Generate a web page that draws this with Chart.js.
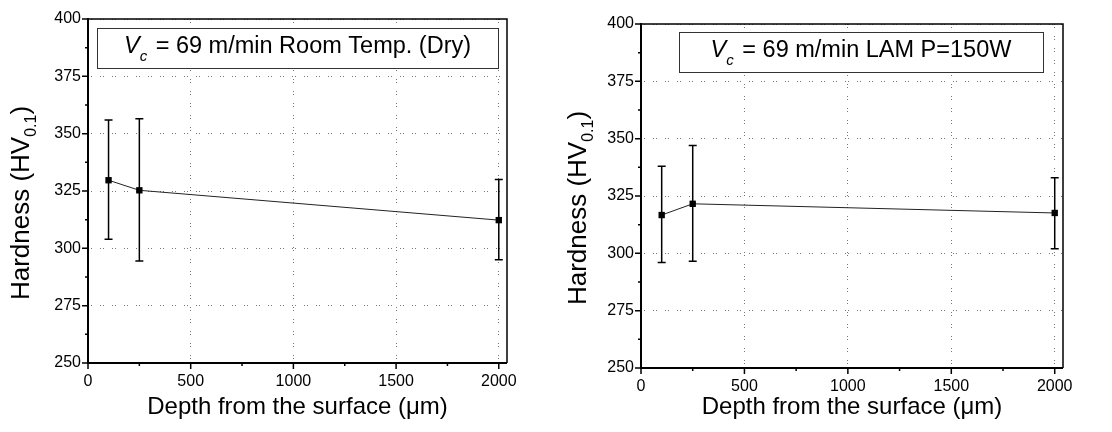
<!DOCTYPE html>
<html>
<head>
<meta charset="utf-8">
<script src="https://cdn.jsdelivr.net/npm/chart.js@4.4.0/dist/chart.umd.min.js"></script>
<style>
  body { margin: 0; background: #fff; }
  #wrap { position: relative; width: 1112px; height: 432px; }
  .panel { position: absolute; top: 0; width: 556px; height: 432px; }
</style>
</head>
<body>
<div id="wrap">
  <div class="panel" style="left:0"><canvas id="roomChart" width="556" height="432"></canvas></div>
  <div class="panel" style="left:556px"><canvas id="lamChart" width="556" height="432"></canvas></div>
</div>
<script>
const depths = [100, 250, 2000];
const roomHardness = [329.7, 325.3, 312.3];
const roomLow = [304, 294.5, 295];
const roomHigh = [356, 356.5, 330];
const lamHardness = [316.7, 321.6, 317.6];
const lamLow = [296, 296.5, 302];
const lamHigh = [338, 347, 333];

const xTickValues = [0, 500, 1000, 1500, 2000];
const xMinorValues = [250, 750, 1250, 1750];
const yTickValues = [250, 275, 300, 325, 350, 375, 400];
const yMinorValues = [262.5, 287.5, 312.5, 337.5, 362.5, 387.5];

const xTitle = 'Depth from the surface (\u03bcm)';
const FONT = "'Liberation Sans', Arial, sans-serif";

// draw a run of text pieces (for italics / subscripts)
function drawParts(ctx, parts, x, y) {
  let w = 0;
  parts.forEach(p => {
    ctx.font = (p.italic ? 'italic ' : '') + p.size + 'px ' + FONT;
    p.w = ctx.measureText(p.text).width;
    w += p.w + (p.gap || 0);
  });
  let cx = x - w / 2;
  parts.forEach(p => {
    ctx.font = (p.italic ? 'italic ' : '') + p.size + 'px ' + FONT;
    ctx.fillText(p.text, cx, y + (p.dy || 0));
    cx += p.w + (p.gap || 0);
  });
}

const framePlugin = {
  id: 'frame',
  beforeDatasetsDraw(chart) {
    const {ctx, chartArea: a, scales: {x, y}} = chart;
    ctx.save();
    ctx.strokeStyle = '#000';
    // top and right borders
    ctx.lineWidth = 1.5;
    ctx.beginPath();
    ctx.moveTo(a.left, a.top); ctx.lineTo(a.right, a.top); ctx.lineTo(a.right, a.bottom);
    ctx.stroke();
    // axes
    ctx.lineWidth = 2;
    ctx.beginPath();
    ctx.moveTo(a.left, a.top - 1); ctx.lineTo(a.left, a.bottom); ctx.lineTo(a.right, a.bottom);
    ctx.stroke();
    // tick marks
    ctx.lineWidth = 1.5;
    ctx.beginPath();
    xTickValues.forEach(v => { const px = x.getPixelForValue(v); ctx.moveTo(px, a.bottom); ctx.lineTo(px, a.bottom + 6); });
    xMinorValues.forEach(v => { const px = x.getPixelForValue(v); ctx.moveTo(px, a.bottom); ctx.lineTo(px, a.bottom + 3); });
    yTickValues.forEach(v => { const py = y.getPixelForValue(v); ctx.moveTo(a.left, py); ctx.lineTo(a.left - 6, py); });
    yMinorValues.forEach(v => { const py = y.getPixelForValue(v); ctx.moveTo(a.left, py); ctx.lineTo(a.left - 3, py); });
    ctx.stroke();
    ctx.restore();
  },
  afterDraw(chart) {
    const {ctx, chartArea: a} = chart;
    const o = chart.options.plugins.frame;
    ctx.save();
    ctx.textBaseline = 'alphabetic';
    // legend box
    const b = o.box;
    ctx.fillStyle = '#fff';
    ctx.fillRect(b.x, b.y, b.w, b.h);
    ctx.strokeStyle = '#333';
    ctx.lineWidth = 1;
    ctx.strokeRect(b.x + 0.5, b.y + 0.5, b.w, b.h);
    ctx.fillStyle = '#000';
    drawParts(ctx, [
      {text: 'V', size: 23.5, italic: true},
      {text: 'c', size: 15, italic: true, dy: 8, gap: 2},
      {text: o.label, size: 23.5}
    ], b.x + b.w / 2, b.y + 25);
    // x axis title
    drawParts(ctx, [{text: xTitle, size: 24}], (a.left + a.right) / 2, 414);
    // y axis title, rotated
    ctx.translate(o.yTitleX, (a.top + a.bottom) / 2 + 12);
    ctx.rotate(-Math.PI / 2);
    drawParts(ctx, [
      {text: 'Hardness (HV', size: 26},
      {text: '0.1', size: 16, dy: 7},
      {text: ')', size: 26}
    ], 0, 9);
    ctx.restore();
  }
};

const errorBarPlugin = {
  id: 'errorBars',
  afterDatasetsDraw(chart) {
    const {ctx, scales: {x, y}} = chart;
    const o = chart.options.plugins.errorBars;
    ctx.save();
    ctx.strokeStyle = '#000';
    ctx.lineWidth = 1.5;
    ctx.beginPath();
    depths.forEach((d, i) => {
      const px = x.getPixelForValue(d);
      const lo = y.getPixelForValue(o.low[i]);
      const hi = y.getPixelForValue(o.high[i]);
      ctx.moveTo(px, lo); ctx.lineTo(px, hi);
      ctx.moveTo(px - 4, lo); ctx.lineTo(px + 4, lo);
      ctx.moveTo(px - 4, hi); ctx.lineTo(px + 4, hi);
    });
    ctx.stroke();
    ctx.restore();
  }
};

function makeChart(id, values, low, high, p) {
  return new Chart(document.getElementById(id), {
    type: 'line',
    data: {
      datasets: [{
        data: depths.map((d, i) => ({x: d, y: values[i]})),
        borderColor: '#222',
        borderWidth: 1,
        pointStyle: 'rect',
        pointRadius: 4.5,
        pointBackgroundColor: '#000',
        pointBorderColor: '#000',
        pointBorderWidth: 0,
        tension: 0
      }]
    },
    options: {
      responsive: false,
      animation: false,
      layout: {padding: {top: p.top, right: 556 - p.right, left: 0, bottom: 0}},
      plugins: {
        legend: {display: false},
        tooltip: {enabled: false},
        frame: {box: p.box, label: p.label, yTitleX: p.yTitleX},
        errorBars: {low: low, high: high}
      },
      scales: {
        x: {
          type: 'linear',
          min: 0,
          max: 2040,
          afterBuildTicks: s => { s.ticks = xTickValues.map(v => ({value: v})); },
          afterFit: s => { s.height = 432 - p.bottom; },
          ticks: {color: '#000', padding: 9, font: {size: 16, family: FONT}, maxRotation: 0,
                  callback: v => String(v)},
          grid: {color: '#777', lineWidth: 1, drawTicks: false},
          border: {display: false, dash: [1, 2, 1, 8]}
        },
        y: {
          min: 250,
          max: 400,
          afterBuildTicks: s => { s.ticks = yTickValues.map(v => ({value: v})); },
          afterFit: s => { s.width = p.left; },
          ticks: {color: '#000', padding: 7, font: {size: 16, family: FONT},
                  callback: v => String(v)},
          grid: {color: '#777', lineWidth: 1, drawTicks: false},
          border: {display: false, dash: [1, 2, 1, 8]}
        }
      }
    },
    plugins: [framePlugin, errorBarPlugin]
  });
}

makeChart('roomChart', roomHardness, roomLow, roomHigh, {
  left: 88, top: 19, right: 507, bottom: 363, yTitleX: 20,
  box: {x: 97, y: 28, w: 401, h: 40},
  label: ' = 69 m/min Room Temp. (Dry)'
});
makeChart('lamChart', lamHardness, lamLow, lamHigh, {
  left: 85, top: 24, right: 507, bottom: 368, yTitleX: 21,
  box: {x: 123, y: 32, w: 364, h: 40},
  label: ' = 69 m/min LAM P=150W'
});
</script>
</body>
</html>
